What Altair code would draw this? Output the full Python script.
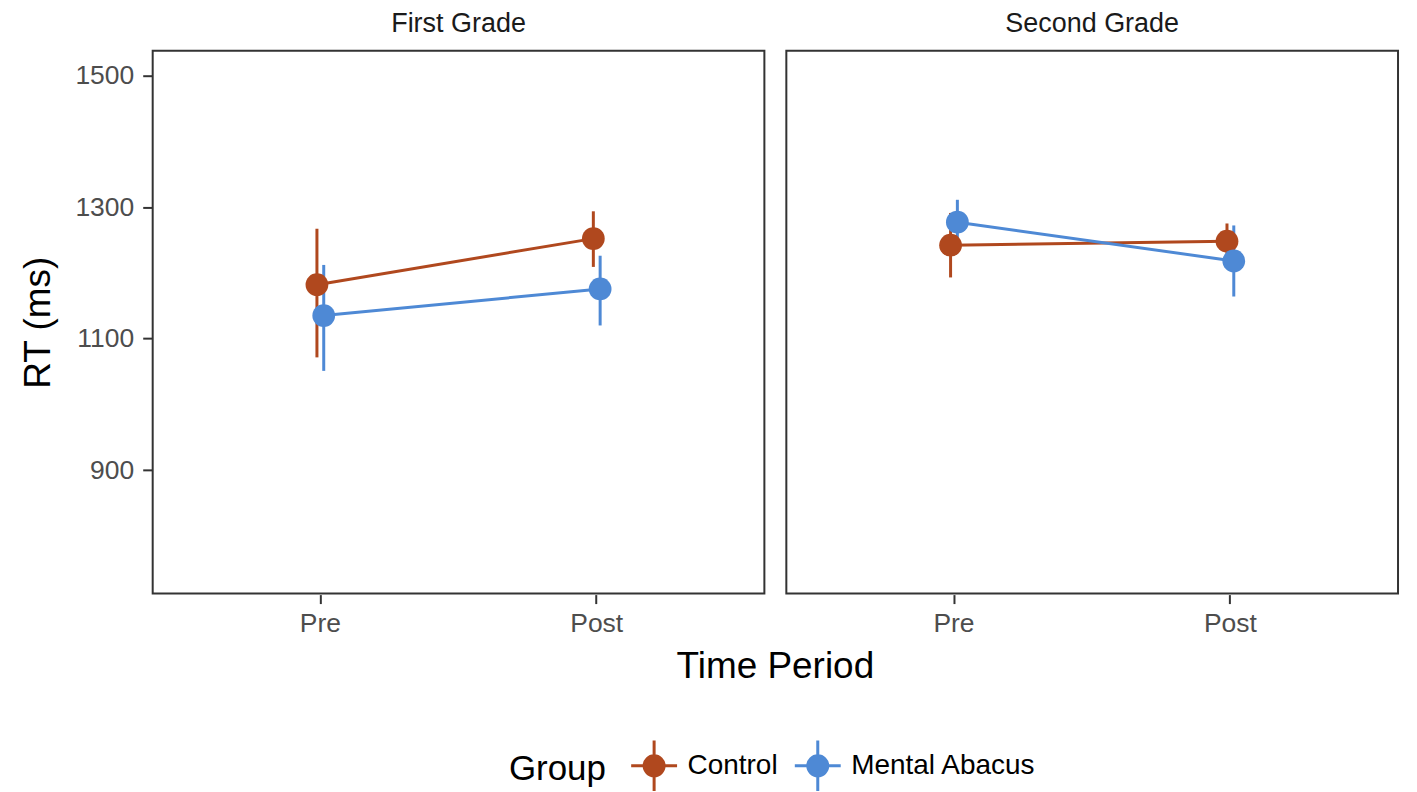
import altair as alt
import pandas as pd

grades = ["First Grade"] * 4 + ["Second Grade"] * 4
times = ["Pre", "Pre", "Post", "Post"] * 2
groups = ["Control", "Mental Abacus"] * 4
means = [1182, 1135, 1252, 1175.5, 1242, 1277, 1248, 1218]
lows = [1071.5, 1051, 1209, 1120, 1193, 1243, 1221, 1164]
highs = [1267, 1212, 1293.5, 1226, 1291, 1311, 1275, 1272]

group_order = ["Control", "Mental Abacus"]
group_colors = ["#B0481E", "#4E89D5"]
time_order = ["Pre", "Post"]
y_ticks = [900, 1100, 1300, 1500]

df = pd.DataFrame({
    "Grade": grades, "Time": times, "Group": groups,
    "RT": means, "lo": lows, "hi": highs,
})

FONT = "Liberation Sans"
gscale = alt.Scale(domain=group_order, range=group_colors)


def ring(r):
    return f"M{r},0A{r},{r},0,1,1,{-r},0A{r},{r},0,1,1,{r},0"


# legend glyph: horizontal + vertical bar and a disc (built from rings)
glyph = "M-1,0H1M0,-1.1V1.1" + "".join(ring(r) for r in (0.065, 0.16, 0.26, 0.36, 0.435))

legend = alt.Legend(
    title="Group",
    orient="none",
    legendX=357,
    legendY=692,
    direction="horizontal",
    titleOrient="left",
    titleFontSize=35,
    titleFont=FONT,
    titleFontWeight="normal",
    titleColor="#000000",
    titlePadding=23,
    labelFontSize=28,
    labelFont=FONT,
    labelColor="#000000",
    labelOffset=9,
    labelLimit=400,
    columnPadding=10,
    symbolType=glyph,
    symbolSize=2116,
    symbolStrokeWidth=3,
    symbolOpacity=1,
)

x = alt.X(
    "Time:N",
    sort=time_order,
    scale=alt.Scale(paddingInner=0.94, paddingOuter=0.5765),
    axis=alt.Axis(title=None, labelAngle=0),
)
xoff = alt.XOffset("Group:N", sort=group_order,
                   scale=alt.Scale(paddingInner=0, paddingOuter=0.22))
yscale = alt.Scale(domain=[712.5, 1537.5], nice=False, zero=False)
yaxis = alt.Axis(values=y_ticks, title="RT (ms)", format="d")

base = alt.Chart(df).encode(x=x, xOffset=xoff)

lines = base.mark_line(strokeWidth=3).encode(
    y=alt.Y("RT:Q", scale=yscale, axis=yaxis),
    color=alt.Color("Group:N", scale=gscale, legend=legend),
)
bars = base.mark_rule(strokeWidth=3).encode(
    y=alt.Y("lo:Q", scale=yscale, axis=yaxis), y2="hi:Q",
    color=alt.Color("Group:N", scale=gscale, legend=None),
)
points = base.mark_circle(size=520, opacity=1).encode(
    y=alt.Y("RT:Q", scale=yscale, axis=yaxis),
    color=alt.Color("Group:N", scale=gscale, legend=None),
)

chart = (
    alt.layer(lines, bars, points)
    .properties(width=613, height=544)
    .facet(
        column=alt.Column(
            "Grade:N",
            header=alt.Header(
                title="Time Period",
                titleOrient="bottom",
                titleFontSize=37,
                titleFont=FONT,
                titleFontWeight="normal",
                titleColor="#000000",
                titlePadding=2,
                labelOrient="top",
                labelFontSize=27,
                labelFont=FONT,
                labelColor="#1A1A1A",
                labelPadding=12,
            ),
        ),
        spacing=20,
    )
    .properties(padding={"left": 12, "top": 1, "right": 10, "bottom": 5})
    .configure_view(stroke="#333333", strokeWidth=2)
    .configure_axis(
        domain=False,
        grid=False,
        tickColor="#333333",
        tickWidth=2,
        tickSize=9,
        labelFont=FONT,
        labelFontSize=26.5,
        labelColor="#4D4D4D",
        labelPadding=7,
        titleFont=FONT,
        titleFontSize=37,
        titleFontWeight="normal",
        titleColor="#000000",
        titlePadding=14,
    )
    .configure_axisY(titlePadding=17, labelPadding=9)
)

chart.save("out.html", embed_options={"renderer": "svg", "actions": False})
